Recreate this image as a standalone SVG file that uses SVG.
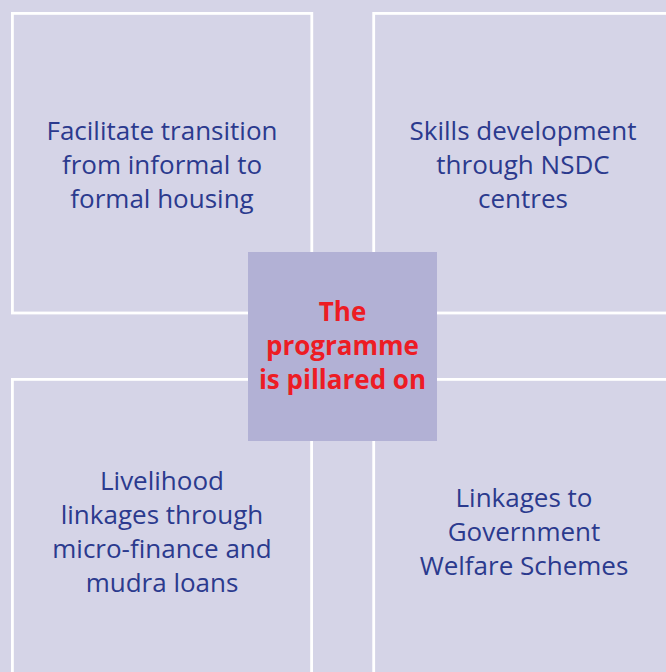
<svg xmlns="http://www.w3.org/2000/svg" width="666" height="672" viewBox="0 0 666 672">
  <style>
    .panel { fill: #d5d4e7; stroke: #ffffff; stroke-width: 2.8; }
    .pillar { font-family: "Open Sans", "Liberation Sans", sans-serif; font-size: 26px; fill: #2b3a8e; text-anchor: middle; }
    .hub { fill: #b2b1d5; }
    .hub-text { font-family: "Open Sans", "Liberation Sans", sans-serif; font-size: 26px; font-weight: bold; fill: #ed1c24; text-anchor: middle; }
  </style>
  <rect width="666" height="672" fill="#d5d4e7"/>

  <g id="pillar-housing">
    <rect class="panel" x="12.4" y="13.4" width="299.4" height="299.6"/>
    <text class="pillar" x="162" y="140">Facilitate transition</text>
    <text class="pillar" x="162" y="174">from informal to</text>
    <text class="pillar" x="162" y="208">formal housing</text>
  </g>

  <g id="pillar-skills">
    <rect class="panel" x="373.7" y="13.4" width="310" height="299.6"/>
    <text class="pillar" x="523" y="140">Skills development</text>
    <text class="pillar" x="523" y="174">through NSDC</text>
    <text class="pillar" x="523" y="208">centres</text>
  </g>

  <g id="pillar-livelihood">
    <rect class="panel" x="12.4" y="379.4" width="299.2" height="310"/>
    <text class="pillar" x="162" y="490">Livelihood</text>
    <text class="pillar" x="162" y="524">linkages through</text>
    <text class="pillar" x="162" y="558">micro-finance and</text>
    <text class="pillar" x="162" y="592">mudra loans</text>
  </g>

  <g id="pillar-welfare">
    <rect class="panel" x="373.7" y="379.4" width="310" height="310"/>
    <text class="pillar" x="524" y="507">Linkages to</text>
    <text class="pillar" x="524" y="541">Government</text>
    <text class="pillar" x="524" y="575">Welfare Schemes</text>
  </g>

  <g id="programme">
    <rect class="hub" x="248" y="252" width="189" height="189"/>
    <text class="hub-text" x="342.5" y="321">The</text>
    <text class="hub-text" x="342.5" y="355">programme</text>
    <text class="hub-text" x="342.5" y="389">is pillared on</text>
  </g>
</svg>
